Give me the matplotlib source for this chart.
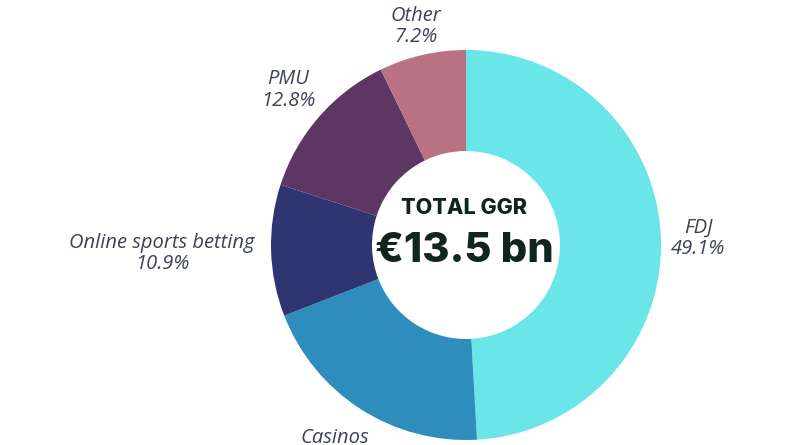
import numpy as np
import matplotlib.pyplot as plt

## Data ##
segments = ['FDJ', 'Casinos', 'Online sports betting', 'PMU', 'Other']
shares = [49.1, 20.0, 10.9, 12.8, 7.2]
colours = ['#6ae5e8', '#2e8dbd', '#2f3571', '#5d3663', '#b87281']
total_label = 'TOTAL GGR'
total_value = '€13.5 bn'

# label distance from centre, in radii
label_dist = [1.19, 1.24, 1.56, 1.21, 1.15]

fig = plt.figure(figsize=(8, 4.45), dpi=100)
ax = fig.add_axes([0, 0, 1, 1])

cx, cy, R = 466, 200, 195
wedges, _ = ax.pie(shares, colors=colours, startangle=90, counterclock=False,
                   center=(cx, cy), radius=R, frame=True,
                   wedgeprops=dict(width=101, linewidth=0))
ax.set_xlim(0, 800)
ax.set_ylim(0, 445)
ax.set_aspect('equal')
ax.axis('off')

txt_col = '#3d4159'
for w, name, val, d in zip(wedges, segments, shares, label_dist):
    ang = np.deg2rad((w.theta1 + w.theta2) / 2)
    x = cx + d * R * np.cos(ang)
    y = cy + d * R * np.sin(ang)
    ax.text(x, y, f'{name}\n{val:.1f}%', ha='center', va='center',
            fontsize=14.5, style='italic', color=txt_col, family='Open Sans',
            linespacing=1.1)

ax.text(cx - 2, cy + 37, total_label, ha='center', va='center', fontsize=15.5,
        fontweight='heavy', family='Inter', color='#10261d')
ax.text(cx - 2, cy - 6, total_value, ha='center', va='center', fontsize=30,
        fontweight='heavy', family='Inter', color='#10261d')

plt.savefig('out.png', dpi=100)
